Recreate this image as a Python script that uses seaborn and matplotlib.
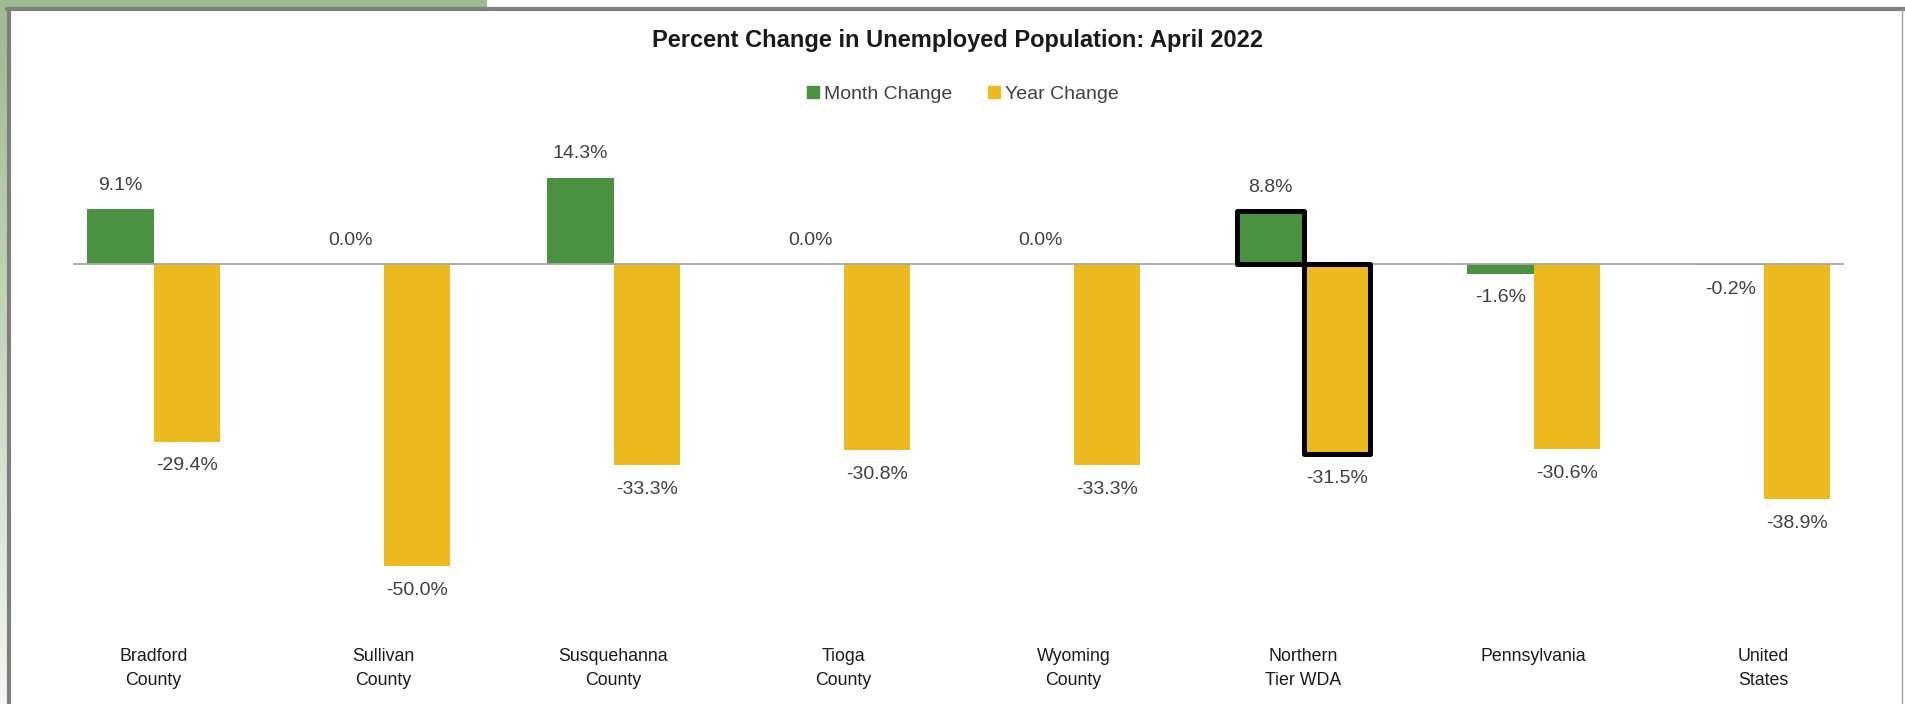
import numpy as np
import pandas as pd
import matplotlib
matplotlib.use("Agg")
import matplotlib.pyplot as plt
import seaborn as sns
from matplotlib.lines import Line2D
from matplotlib.patches import Rectangle
from matplotlib.colors import LinearSegmentedColormap

# ---- data ----
categories = ["Bradford\nCounty", "Sullivan\nCounty", "Susquehanna\nCounty", "Tioga\nCounty",
              "Wyoming\nCounty", "Northern\nTier WDA", "Pennsylvania", "United\nStates"]
month_change = [9.1, 0.0, 14.3, 0.0, 0.0, 8.8, -1.6, -0.2]
year_change = [-29.4, -50.0, -33.3, -30.8, -33.3, -31.5, -30.6, -38.9]
series_names = ["Month Change", "Year Change"]
title = "Percent Change in Unemployed Population: April 2022"

GREEN = "#4A9142"
YELLOW = "#EDBB1F"
TXT = "#404040"

df = pd.DataFrame({
    "cat": categories * 2,
    "series": [series_names[0]] * len(categories) + [series_names[1]] * len(categories),
    "value": month_change + year_change,
})

sns.set_theme(style="white")
plt.rcParams["font.family"] = ["Liberation Sans", "DejaVu Sans"]

W, H = 1906, 704
fig = plt.figure(figsize=(W / 100, H / 100), dpi=100)
fig.patch.set_facecolor("white")

# frame decoration: green strips + gray border
top_strip = Rectangle((0, 1 - 8 / H), 487 / W, 8 / H, transform=fig.transFigure,
                      facecolor="#9DB98F", edgecolor="none", zorder=0)
fig.add_artist(top_strip)
gax = fig.add_axes([0, 0, 8 / W, 1])
grad = np.linspace(0, 1, 256).reshape(-1, 1)
cm = LinearSegmentedColormap.from_list("g", ["#9DB98F", "#F3F6F2"])
gax.imshow(grad, aspect="auto", cmap=cm, extent=[0, 1, 0, 1], origin="upper")
gax.set_axis_off()
fig.add_artist(Line2D([9 / W, 9 / W], [0, 1 - 9 / H], transform=fig.transFigure,
                      color="#7F7F7F", lw=3.0))
fig.add_artist(Line2D([7.5 / W, 1], [1 - 9 / H, 1 - 9 / H], transform=fig.transFigure,
                      color="#7F7F7F", lw=3.0))
fig.add_artist(Line2D([1902 / W, 1902 / W], [0, 1 - 9 / H], transform=fig.transFigure,
                      color="#A0A0A0", lw=1.0))

ax = fig.add_axes([73 / W, 1 - 640 / H, (1844 - 73) / W, 490 / H])
sns.barplot(data=df, x="cat", y="value", hue="series", order=categories,
            hue_order=series_names, palette=[GREEN, YELLOW], width=0.58, gap=0,
            saturation=1, ax=ax, legend=False, zorder=2, linewidth=0)

ax.set_ylim(-62.25, 18.87)
ax.set_xlim(-0.35, len(categories) - 1 + 0.35)
ax.axhline(0, color="#A6A6A6", lw=1.3, zorder=2.5)
for s in ax.spines.values():
    s.set_visible(False)
ax.set_yticks([])
ax.set_xlabel("")
ax.set_ylabel("")
ax.tick_params(axis="x", length=0, pad=6)
ax.set_xticks(range(len(categories)))
ax.set_xticklabels(categories, fontsize=12.8, color="#1A1A1A", linespacing=1.5)
ax.set_facecolor("none")

# highlight Northern Tier WDA
hi = categories.index("Northern\nTier WDA")
for cont in ax.containers:
    cont.patches[hi].set_edgecolor("black")
    cont.patches[hi].set_linewidth(3.6)
    cont.patches[hi].set_joinstyle("round")
    cont.patches[hi].set_zorder(3)

# data labels
for cont, vals in zip(ax.containers, [month_change, year_change]):
    for p, v in zip(cont.patches, vals):
        x = p.get_x() + p.get_width() / 2
        off = 17 if v >= 0 else -17.5
        ax.annotate(f"{v:.1f}%", (x, v), xytext=(0, off), textcoords="offset points",
                    ha="center", va="center", fontsize=14, color=TXT)

# title and legend
fig.text(958 / W, 1 - 41 / H, title, ha="center", va="center", fontsize=17,
         fontweight="bold", color="#1A1A1A")
handles = [Line2D([], [], marker="s", linestyle="none", markersize=9, color=c)
           for c in [GREEN, YELLOW]]
fig.legend(handles, series_names, loc="center", bbox_to_anchor=(961 / W, 1 - 94 / H),
           ncol=2, frameon=False, handletextpad=0.1, columnspacing=1.6,
           handlelength=1.0, prop={"size": 14}, labelcolor=TXT)

fig.savefig("out.png", dpi=100, facecolor="white")
